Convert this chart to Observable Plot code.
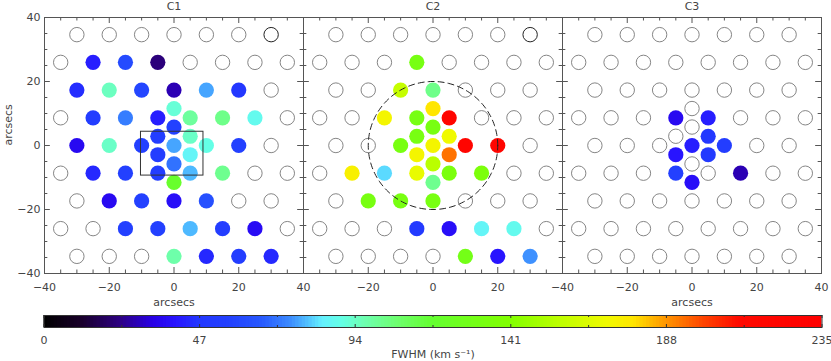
<!DOCTYPE html>
<html><head><meta charset="utf-8">
<script src="https://cdn.jsdelivr.net/npm/d3@7"></script>
<script src="https://cdn.jsdelivr.net/npm/@observablehq/plot@0.6"></script>
<style>body{margin:0;background:#fff} #chart svg{display:block;overflow:visible} #chart{width:831px}</style>
</head><body><div id="chart"></div>
<script>
// ---------------- data ----------------
const panels = ["C1", "C2", "C3"];

// fibre centres (arcsec), row by row from the top, then the central dither fibres
const fiberX = [
  -30, -20, -10, 0, 10, 20, 30,
  -35, -25, -15, -5, 5, 15, 25, 35,
  -30, -20, -10, 0, 10, 20, 30,
  -35, -25, -15, -5, 5, 15, 25, 35,
  -30, -20, -10, 0, 10, 20, 30,
  -35, -25, -15, -5, 5, 15, 25, 35,
  -30, -20, -10, 0, 10, 20, 30,
  -35, -25, -15, -5, 5, 15, 25, 35,
  -30, -20, -10, 0, 10, 20, 30,
  0, 0, -5, 5, -5, 5, 0, 0
];
const fiberY = [
  34.64, 34.64, 34.64, 34.64, 34.64, 34.64, 34.64,
  25.98, 25.98, 25.98, 25.98, 25.98, 25.98, 25.98, 25.98,
  17.32, 17.32, 17.32, 17.32, 17.32, 17.32, 17.32,
  8.66, 8.66, 8.66, 8.66, 8.66, 8.66, 8.66, 8.66,
  0, 0, 0, 0, 0, 0, 0,
  -8.66, -8.66, -8.66, -8.66, -8.66, -8.66, -8.66, -8.66,
  -17.32, -17.32, -17.32, -17.32, -17.32, -17.32, -17.32,
  -25.98, -25.98, -25.98, -25.98, -25.98, -25.98, -25.98, -25.98,
  -34.64, -34.64, -34.64, -34.64, -34.64, -34.64, -34.64,
  11.55, 5.77, 2.89, 2.89, -2.89, -2.89, -5.77, -11.55
];

// FWHM (km/s) per fibre; null = no measurement (open circle)
const fwhmC1 = [
  null, null, null, null, null, null, null,
  null, 42, 60, 22, null, null, null, null,
  45, 95, 58, 28, 77, 47, null,
  null, 52, 72, 42, 100, 103, 88, null,
  36, 94, 55, 77, 90, 55, null,
  null, 44, 55, 52, 79, 102, null, null,
  null, 36, 55, 38, 62, null, null,
  null, null, 55, 55, 79, 52, 37, null,
  null, null, null, 98, 44, 52, 44,
  92, 56, 52, 94, 52, 86, 70, 120
];
const fwhmC2 = [
  null, null, null, null, null, null, null,
  null, null, null, 132, null, null, null, null,
  null, null, 158, 103, null, null, null,
  null, null, 172, 132, 222, null, null, null,
  null, null, 133, 172, 222, 222, null,
  null, 174, 82, 168, 135, 136, null, null,
  null, 133, 133, 133, null, null, null,
  null, null, null, 50, 38, 86, 88, null,
  null, null, null, null, 130, 40, 75,
  178, 133, 133, 170, 172, 193, 155, 102
];
const fwhmC3 = [
  null, null, null, null, null, null, null,
  null, null, null, null, null, null, null, null,
  null, null, null, null, null, null, null,
  null, null, null, 36, 42, null, null, null,
  null, null, null, 42, 52, null, null,
  null, null, null, 55, null, 28, null, null,
  null, null, null, null, null, null, null,
  null, null, null, null, null, null, null, null,
  null, null, null, null, null, null, null,
  null, null, null, 48, 40, 50, null, 38
];

// fibre drawn with a dark outline (index into fibre arrays) and the panels it appears in
const darkFiberIndex = 6;
const darkFiberPanels = ["C1", "C2"];

// annotations
const boxPanel = ["C1"], boxX1 = [-10.2], boxX2 = [9.1], boxY1 = [-9.4], boxY2 = [4.3];
const aperturePanel = "C2", apertureRadius = 20;

// axes
const axisMajor = [-40, -20, 0, 20, 40];
const axisMinor = [-35, -30, -25, -15, -10, -5, 5, 10, 15, 25, 30, 35];
const xLabelPanels = ["C1", "C2", "C3"];
const xLabelValues = [[-40, -20, 0, 20, 40], [-20, 0, 20], [-40, -20, 0, 20, 40]];
const xTitlePanels = ["C1", "C3"];
const axisTitle = "arcsecs";

// colour bar
const cbarTicks = [0, 47, 94, 141, 188, 235];
const cbarMinor = [23.5, 70.5, 117.5, 164.5, 211.5];
const cbarTitle = "FWHM (km s\u207B\u00B9)";
const cmapValues = [0, 11, 23, 33, 40, 47, 56, 66, 74.5, 79.5, 84, 90, 96.5, 107, 117, 141, 156, 170, 178, 184, 188, 199, 210, 235];
const cmapColors = ["#000000", "#180028", "#2d0082", "#2800e6", "#2814ff", "#2337ff", "#2341ff", "#285aff", "#3c8cff", "#50beff",
  "#64f0ff", "#64ffe6", "#6effb4", "#6eff6e", "#64ff32", "#82ff00", "#beff00", "#f0fa00", "#ffe600", "#ffb400", "#ff9600", "#ff4600", "#ff0a00", "#ff0000"];

// ---------------- build ----------------
const fwhm = {C1: fwhmC1, C2: fwhmC2, C3: fwhmC3};
const fibers = panels.flatMap(p => fiberX.map((x, i) => ({panel: p, x, y: fiberY[i], v: fwhm[p][i], i})));
const filled = fibers.filter(d => d.v != null);
const empty = fibers.filter(d => d.v == null && !(d.i === darkFiberIndex && darkFiberPanels.includes(d.panel)));
const dark = fibers.filter(d => d.v == null && d.i === darkFiberIndex && darkFiberPanels.includes(d.panel));
const boxes = boxPanel.map((p, k) => ({panel: p, x1: boxX1[k], x2: boxX2[k], y1: boxY1[k], y2: boxY2[k]}));
const aperture = d3.range(0, 361, 2).map(a => ({panel: aperturePanel,
  x: apertureRadius * Math.cos(a * Math.PI / 180), y: apertureRadius * Math.sin(a * Math.PI / 180)}));
const xLabels = xLabelPanels.flatMap((p, k) => xLabelValues[k].map(v => ({panel: p, v})));
const yLabels = axisMajor.map(v => ({panel: "C1", v}));
const fmt = v => String(v).replace("-", "\u2212");

const W = 831, H1 = 310;
const mL = 43.5, mR = 10, mT = 17, mB = 37;
const innerW = (W - mL - mR) / 3, innerH = H1 - mT - mB;
const axisColor = "#555", textColor = "#444";
const colorScale = {type: "linear", domain: cmapValues, range: cmapColors, interpolate: "rgb", clamp: true};
const txt = {fill: textColor, lineAnchor: "middle"};

const main = Plot.plot({
  width: W, height: H1, marginLeft: mL, marginRight: mR, marginTop: mT, marginBottom: mB,
  style: {fontFamily: "DejaVu Sans", fontSize: "11px", background: "#fff"},
  fx: {domain: panels, padding: 0, axis: null},
  x: {domain: [-40, 40], axis: null},
  y: {domain: [-40, 40], axis: null},
  color: colorScale,
  marks: [
    Plot.dot(filled, {x: "x", y: "y", fx: "panel", r: 7.6, fill: "v"}),
    Plot.dot(empty, {x: "x", y: "y", fx: "panel", r: 7.2, stroke: "#777", strokeWidth: 0.9, fill: "none"}),
    Plot.dot(dark, {x: "x", y: "y", fx: "panel", r: 7.2, stroke: "#222", strokeWidth: 1, fill: "none"}),
    Plot.line(aperture, {x: "x", y: "y", fx: "panel", stroke: "#222", strokeWidth: 1, strokeDasharray: "6,4"}),
    Plot.rect(boxes, {x1: "x1", x2: "x2", y1: "y1", y2: "y2", fx: "panel", stroke: "#333", strokeWidth: 1, fill: "none"}),
    // inward ticks on four sides
    Plot.ruleX(axisMajor, {insetTop: innerH - 6, stroke: axisColor}),
    Plot.ruleX(axisMajor, {insetBottom: innerH - 6, stroke: axisColor}),
    Plot.ruleX(axisMinor, {insetTop: innerH - 3.5, stroke: axisColor}),
    Plot.ruleX(axisMinor, {insetBottom: innerH - 3.5, stroke: axisColor}),
    Plot.ruleY(axisMajor, {insetRight: innerW - 6, stroke: axisColor}),
    Plot.ruleY(axisMajor, {insetLeft: innerW - 6, stroke: axisColor}),
    Plot.ruleY(axisMinor, {insetRight: innerW - 3.5, stroke: axisColor}),
    Plot.ruleY(axisMinor, {insetLeft: innerW - 3.5, stroke: axisColor}),
    Plot.frame({stroke: axisColor}),
    Plot.text(xLabels, {x: "v", fx: "panel", frameAnchor: "bottom", dy: 13.7, text: d => fmt(d.v), ...txt}),
    Plot.text(yLabels, {y: "v", fx: "panel", frameAnchor: "left", dx: -4, textAnchor: "end", text: d => fmt(d.v), ...txt}),
    Plot.text(xTitlePanels.map(p => ({panel: p})), {fx: "panel", frameAnchor: "bottom", dy: 28.5, text: () => axisTitle, ...txt}),
    Plot.text([{panel: "C1"}], {fx: "panel", frameAnchor: "left", dx: -36, rotate: -90, text: () => axisTitle, ...txt}),
    Plot.text(panels.map(p => ({panel: p})), {fx: "panel", frameAnchor: "top", dy: -11.5, text: "panel", ...txt})
  ]
});

const barH = 12;
const steps = d3.range(0, 235, 1);
const cbar = Plot.plot({
  width: W, height: 51, marginLeft: 43.5, marginRight: 9.5, marginTop: 5, marginBottom: 34,
  style: {fontFamily: "DejaVu Sans", fontSize: "11px", background: "#fff"},
  x: {domain: [0, 235], axis: null},
  y: {domain: [0, 1], axis: null},
  color: colorScale,
  marks: [
    Plot.rect(steps, {x1: d => d, x2: d => Math.min(d + 1.6, 235), y1: 0, y2: 1, fill: d => d + 0.5}),
    Plot.ruleX(cbarTicks, {insetTop: barH - 3, stroke: "#333"}),
    Plot.ruleX(cbarTicks, {insetBottom: barH - 3, stroke: "#333"}),
    Plot.ruleX(cbarMinor, {insetTop: barH - 2, stroke: "#333"}),
    Plot.ruleX(cbarMinor, {insetBottom: barH - 2, stroke: "#333"}),
    Plot.frame({stroke: "#333"}),
    Plot.text(cbarTicks, {x: d => d, frameAnchor: "bottom", dy: 13, text: d => String(d), ...txt}),
    Plot.text([cbarTitle], {frameAnchor: "bottom", dy: 26.5, text: d => d, ...txt})
  ]
});

const chart = document.getElementById("chart");
chart.appendChild(main);
chart.appendChild(cbar);
</script>
</body></html>
